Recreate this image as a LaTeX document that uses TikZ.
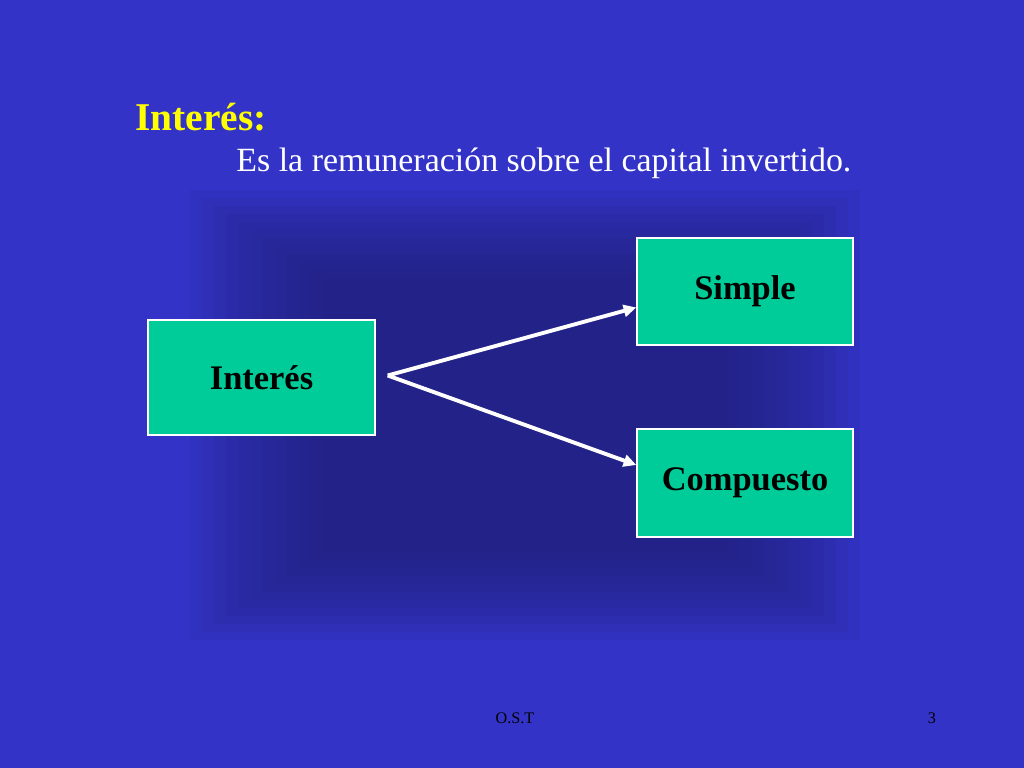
\documentclass[tikz,border=0pt]{standalone}
\usepackage{tikz}
\usetikzlibrary{positioning, calc, arrows.meta}
\usepackage{fontspec}
\setmainfont{Liberation Serif}
\definecolor{slidebg}{RGB}{51,51,200}
\definecolor{shadowblue}{RGB}{30,30,110}
\definecolor{boxfill}{RGB}{0,204,153}
\definecolor{titleyellow}{RGB}{255,255,0}
\tikzset{
  conceptbox/.style={draw=white, line width=0.4pt, fill=boxfill, font=\fontsize{9.8}{11}\selectfont\bfseries, text=black},
  linkarrow/.style={draw=white, line width=1.1pt, -{Triangle[length=3.6pt,width=3.4pt]}}
}
\begin{document}
\begin{tikzpicture}
        \useasboundingbox (0,0) rectangle (10.24,7.68);
        \fill[slidebg] (0,0) rectangle (10.24,7.68);
        
        \foreach \i in {0,...,11} {
          \fill[shadowblue, opacity=0.09] (1.9+0.12*\i,1.28+0.08*\i) rectangle (8.6-0.12*\i,5.78-0.08*\i);
        }
        
        \node[anchor=west, text=titleyellow, font=\fontsize{11.2}{13}\selectfont\bfseries] (title) at (1.23,6.51) {Interés:};
        \node[anchor=west, text=white, font=\fontsize{9.65}{11}\selectfont] (subtitle) at (2.24,6.05) {Es la remuneración sobre el capital invertido.};
        
        \node[conceptbox, minimum width=2.27cm, minimum height=1.15cm] (interes) at (2.615,3.905) {Interés};
        \node[conceptbox, minimum width=2.16cm, minimum height=1.07cm] (simple) at (7.45,4.765) {Simple};
        \node[conceptbox, minimum width=2.16cm, minimum height=1.08cm] (compuesto) at (7.45,2.85) {Compuesto};
        
        \coordinate (fork) at ($(interes.east)+(0.12,0.02)$);
        \draw[linkarrow] (fork) -- ($(simple.west)+(0,-0.16)$);
        \draw[linkarrow] (fork) -- ($(compuesto.west)+(0,0.18)$);
        
        \node[text=black, font=\fontsize{4.6}{5}\selectfont] (author) at (5.15,0.50) {O.S.T};
        \node[text=black, font=\fontsize{4.6}{5}\selectfont] (page) at (9.32,0.50) {3};
\end{tikzpicture}
\end{document}
